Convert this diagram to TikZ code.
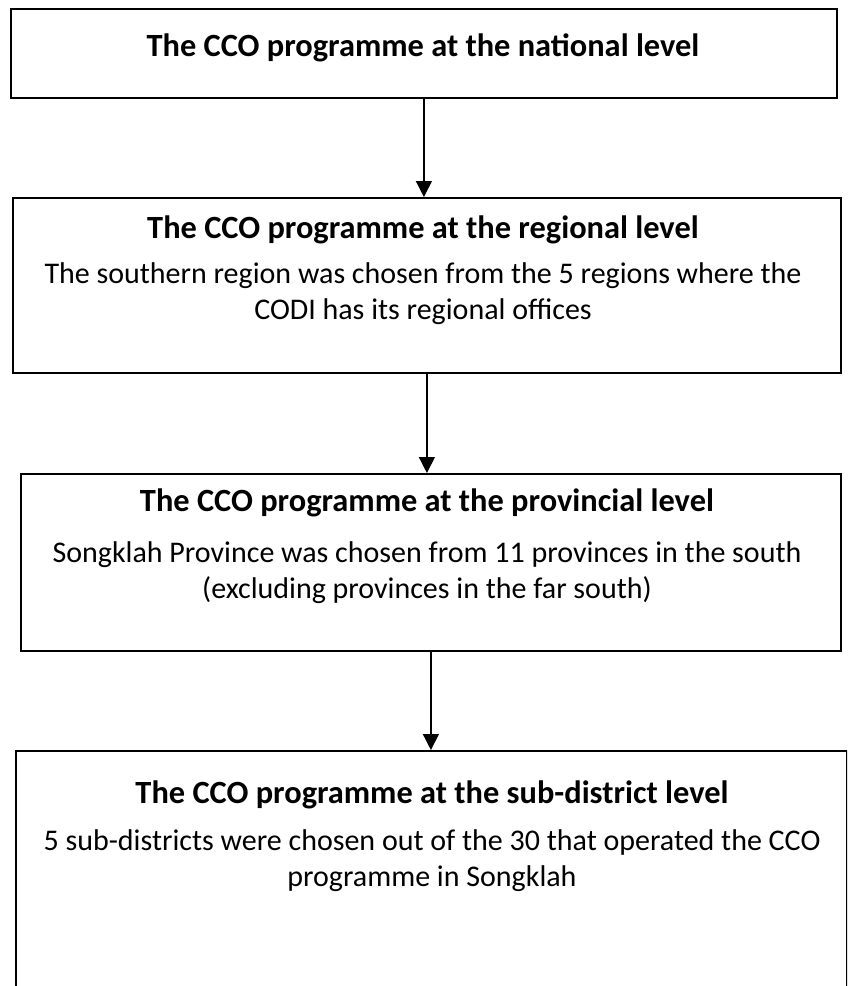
\documentclass[tikz,border=0pt]{standalone}
\usepackage{fontspec}
\setmainfont{Carlito}
\usepackage{tikz}
\usetikzlibrary{arrows.meta, positioning}
\tikzstyle{stage} = [draw=black, line width=0.9pt, anchor=north west, inner sep=0pt]
\tikzstyle{head} = [font=\bfseries\fontsize{16.2}{19}\selectfont, inner sep=0pt]
\tikzstyle{body} = [font=\fontsize{15}{18}\selectfont, align=center, inner sep=0pt]
\tikzstyle{arrow} = [line width=0.7pt, -{Triangle[length=8pt, width=8pt]}]

\begin{document}
\begin{tikzpicture}[x=0.5pt, y=-0.5pt]
              \useasboundingbox (0,0) rectangle (847,986);
              \clip (0,0) rectangle (847,986);

              % the four levels
              \node[stage, minimum width=413pt, minimum height=44.5pt] (national) at (10,8) {};
              \node[stage, minimum width=414pt, minimum height=87.5pt] (regional) at (12,197) {};
              \node[stage, minimum width=410pt, minimum height=88.5pt] (provincial) at (20,473) {};
              \node[stage, minimum width=415.5pt, minimum height=125pt] (subdistrict) at (15,750) {};

              \node[head] (national-title) at (423,48) {The CCO programme at the national level};

              \node[head] (regional-title) at (423,230) {The CCO programme at the regional level};
              \node[body, below=9pt of regional-title] (regional-text) {The southern region was chosen from the 5 regions where the\\CODI has its regional offices};

              \node[head] (provincial-title) at (427,503) {The CCO programme at the provincial level};
              \node[body, below=12pt of provincial-title] (provincial-text) {Songklah Province was chosen from 11 provinces in the south\\(excluding provinces in the far south)};

              \node[head] (subdistrict-title) at (432,795) {The CCO programme at the sub-district level};
              \node[body, below=10pt of subdistrict-title] (subdistrict-text) {5 sub-districts were chosen out of the 30 that operated the CCO\\programme in Songklah};

              % arrows between levels
              \draw[arrow] (national.south) -- (national.south |- regional.north);
              \draw[arrow] (regional.south) -- (regional.south |- provincial.north);
              \draw[arrow] (provincial.south) -- (provincial.south |- subdistrict.north);

          \end{tikzpicture}
\end{document}
